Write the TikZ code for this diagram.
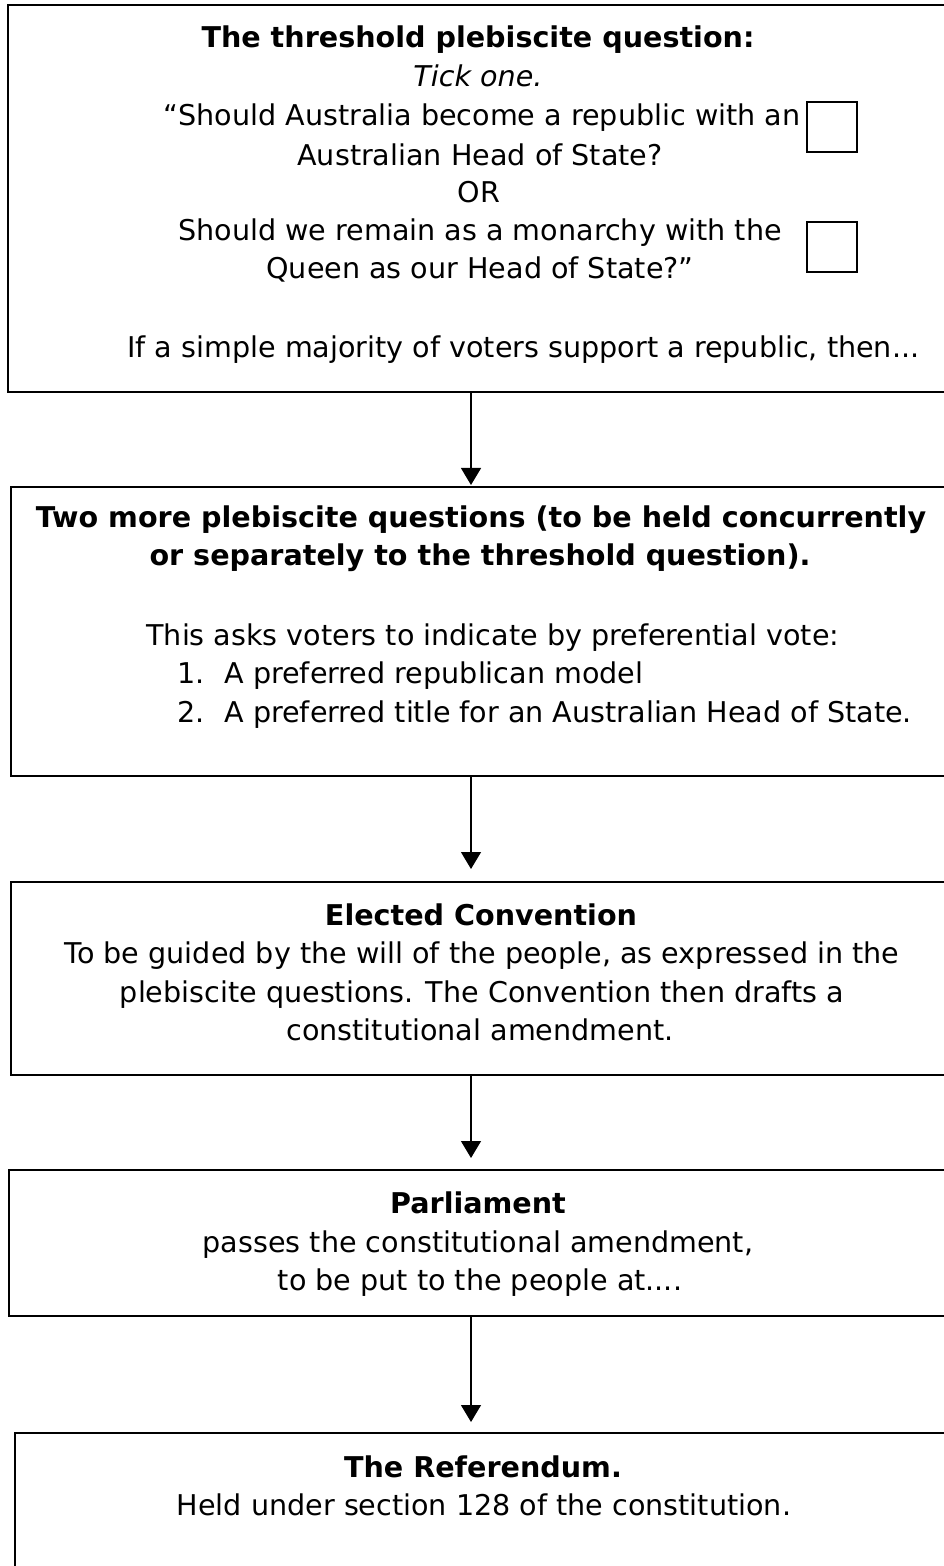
\documentclass[tikz,border=0pt]{standalone}
\usepackage{fontspec}
\setmainfont{DejaVu Sans}
\usetikzlibrary{arrows.meta}
\begin{document}
\begin{tikzpicture}[x=0.5pt,y=-0.5pt,
  box/.style={draw,line width=1.4pt,rectangle,anchor=north west,inner sep=0pt,outer sep=0pt},
  chk/.style={draw,line width=0.8pt,rectangle,minimum width=25pt,minimum height=25pt,inner sep=0pt},
  txt/.style={anchor=base,inner sep=0pt,font=\fontsize{14.3pt}{19.25pt}\selectfont},
  ltxt/.style={txt,anchor=base west},
  btxt/.style={txt,font=\fontsize{14.3pt}{19.25pt}\selectfont\bfseries},
  itxt/.style={txt,font=\fontsize{14.3pt}{19.25pt}\selectfont\itshape},
  arr/.style={line width=0.6pt,-{Triangle[length=8.5pt,width=10pt]}}]
\useasboundingbox (0,0) rectangle (943,1566);
% boxes
\node[box,minimum width=480pt,minimum height=193.5pt] (b1) at (8,5) {};
\node[box,minimum width=480pt,minimum height=144.5pt] (b2) at (11,487) {};
\node[box,minimum width=480pt,minimum height=96.5pt] (b3) at (11,882) {};
\node[box,minimum width=480pt,minimum height=73pt] (b4) at (9,1170) {};
\node[box,minimum width=480pt,minimum height=100pt] (b5) at (15,1433) {};
% box 1 text
\node[btxt] (t1a) at (478,48) {The threshold plebiscite question:};
\node[itxt] (t1b) at (478,87) {Tick one.};
\node[txt] (t1c) at (482,126) {“Should Australia become a republic with an};
\node[txt] (t1d) at (480,166) {Australian Head of State?};
\node[txt] (t1e) at (479,203) {OR};
\node[txt] (t1f) at (480,241) {Should we remain as a monarchy with the};
\node[txt] (t1g) at (480,279) {Queen as our Head of State?”};
\node[ltxt] (t1h) at (127,358) {If a simple majority of voters support a republic, then...};
\node[chk] (c1) at (832,127) {};
\node[chk] (c2) at (832,247) {};
% box 2 text
\node[btxt] (t2a) at (481,528) {Two more plebiscite questions (to be held concurrently};
\node[btxt] (t2b) at (480,565) {or separately to the threshold question).};
\node[ltxt] (t2c) at (146,645) {This asks voters to indicate by preferential vote:};
\node[ltxt] (t2d) at (177,683) {1.};
\node[ltxt] (t2e) at (224,683) {A preferred republican model};
\node[ltxt] (t2f) at (177,722) {2.};
\node[ltxt] (t2g) at (224,722) {A preferred title for an Australian Head of State.};
% box 3 text
\node[btxt] (t3a) at (481,925) {Elected Convention};
\node[txt] (t3b) at (482,963) {To be guided by the will of the people, as expressed in the};
\node[txt] (t3c) at (482,1002) {plebiscite questions. The Convention then drafts a};
\node[txt] (t3d) at (480,1040) {constitutional amendment.};
% box 4 text
\node[btxt] (t4a) at (478,1213) {Parliament};
\node[txt] (t4b) at (478,1252) {passes the constitutional amendment,};
\node[txt] (t4c) at (480,1290) {to be put to the people at....};
% box 5 text
\node[btxt] (t5a) at (483,1477) {The Referendum.};
\node[txt] (t5b) at (484,1515) {Held under section 128 of the constitution.};
% arrow tips
\coordinate (p1) at (471,485);
\coordinate (p2) at (471,869);
\coordinate (p3) at (471,1158);
\coordinate (p4) at (471,1422);
\draw[arr] (p1 |- b1.south) -- (p1);
\draw[arr] (p2 |- b2.south) -- (p2);
\draw[arr] (p3 |- b3.south) -- (p3);
\draw[arr] (p4 |- b4.south) -- (p4);
\end{tikzpicture}
\end{document}
